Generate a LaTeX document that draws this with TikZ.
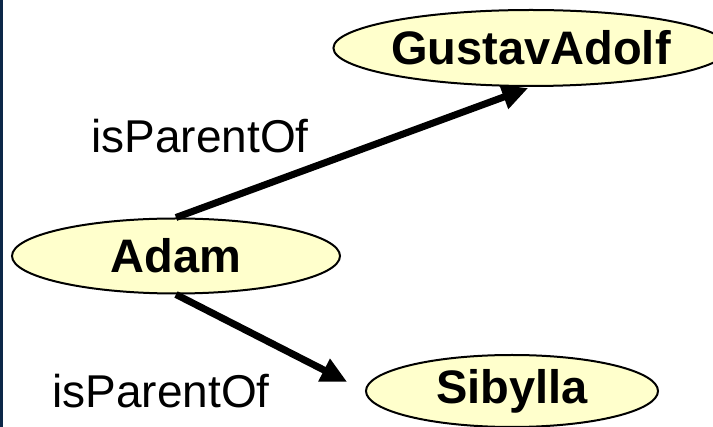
\documentclass[tikz,border=0pt]{standalone}
\usepackage{fontspec}
\setmainfont{Liberation Sans}
\usepackage{tikz}
\usetikzlibrary{shapes.geometric, arrows.meta}
\definecolor{ellfill}{RGB}{255,255,204}
\definecolor{edgeblue}{RGB}{12,40,72}

\begin{document}
\begin{tikzpicture}[
  x=1pt, y=-1pt,
  >={Triangle[length=26pt, width=24pt]},
  every node/.style={font=\fontsize{46}{55}\selectfont},
  person/.style={ellipse, draw, line width=2pt, fill=ellfill, inner sep=0pt, font=\fontsize{47}{56}\selectfont\bfseries},
  conn/.style={->, line width=7pt}
]
\useasboundingbox (0,0) rectangle (713,427);
% Left edge strip
\fill[edgeblue] (0,0) rectangle (3,427);
% Persons
\node[person, minimum width=328pt, minimum height=75pt] (adam) at (176,256) {Adam};
\node[person, minimum width=361pt, minimum height=76pt] (gustav) at (531,48) {GustavAdolf};
\node[person, minimum width=292pt, minimum height=72pt] (sibylla) at (512,391) {Sibylla};
% Relations
\draw[conn, shorten >=3pt] (adam.north) -- (gustav.south);
\draw[conn, shorten >=20pt] (adam.south) -- (sibylla.west);
% Labels
\node (upper) at (200,136) {isParentOf};
\node (lower) at (161,391) {isParentOf};
\end{tikzpicture}
\end{document}
